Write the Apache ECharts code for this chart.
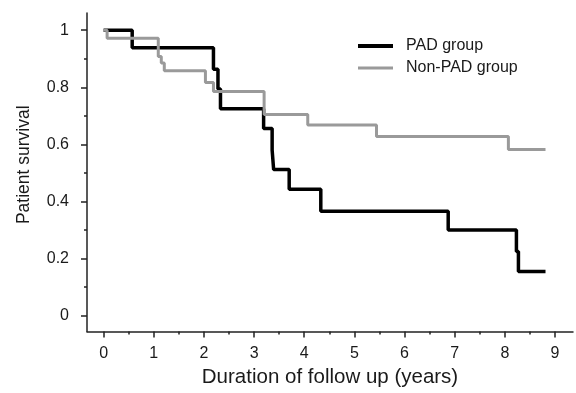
<!DOCTYPE html>
<html>
<head>
<meta charset="utf-8">
<script src="https://cdn.jsdelivr.net/npm/echarts@6/dist/echarts.min.js"></script>
<style>html,body{margin:0;padding:0;background:#fff}#c{width:576px;height:393px}</style>
</head>
<body>
<div id="c"></div>
<script>
// Kaplan-Meier step data [years, survival]
const padSeries = [[0,1],[0.57,0.9385],[2.19,0.863],[2.28,0.794],[2.33,0.725],[3.19,0.656],[3.36,0.58],[3.39,0.512],[3.70,0.443],[4.33,0.366],[6.87,0.30],[8.23,0.225],[8.27,0.155],[8.81,0.155]];
const nonPadSeries = [[0,1],[0.07,0.972],[1.09,0.908],[1.15,0.885],[1.21,0.858],[2.03,0.817],[2.19,0.785],[3.2,0.705],[4.07,0.668],[5.44,0.628],[8.07,0.582],[8.81,0.582]];
const seriesNames = ['PAD group','Non-PAD group'];
const xMajorTicks = [0,1,2,3,4,5,6,7,8,9];
const xMinorTicks = [0.5,1.5,2.5,3.5,4.5,5.5,6.5,7.5,8.5];
const yMajorTicks = [0,0.2,0.4,0.6,0.8,1];
const yMinorTicks = [0.1,0.3,0.5,0.7,0.9];
const xTitle = 'Duration of follow up (years)';
const yTitle = 'Patient survival';

const FONT = '"Liberation Sans", Arial, sans-serif';
const TXT = '#1a1a1a';
const xMin = -0.331, xMax = 9.358, yMin = -0.055, yMax = 1.06;

const chart = echarts.init(document.getElementById('c'), null, {renderer:'canvas'});
chart.setOption({
  animation: false,
  backgroundColor: '#fff',
  grid: {left: 87, right: 3, top: 13, bottom: 57, containLabel: false},
  legend: {
    orient: 'vertical', left: 353, top: 33, itemWidth: 35, itemHeight: 14, itemGap: 6,
    symbolKeepAspect: true,
    data: [
      {name: seriesNames[0], icon: 'path://M0,0h35v4h-35z'},
      {name: seriesNames[1], icon: 'path://M0,0h35v3h-35z'}
    ],
    textStyle: {fontFamily: FONT, fontSize: 16, color: TXT, padding: [0,0,0,8]}
  },
  xAxis: [
    {type: 'value', min: xMin, max: xMax, position: 'bottom',
     name: xTitle, nameLocation: 'middle', nameGap: 35.5,
     nameTextStyle: {fontFamily: FONT, fontSize: 20.5, color: TXT},
     axisLine: {show: true, onZero: false, lineStyle: {color: '#222', width: 1.5}},
     axisTick: {show: true, length: 6, customValues: xMajorTicks, lineStyle: {color: '#222', width: 1.5}},
     axisLabel: {customValues: xMajorTicks, margin: 14, fontFamily: FONT, fontSize: 16, color: TXT},
     splitLine: {show: false}},
    {type: 'value', min: xMin, max: xMax, position: 'bottom',
     axisLine: {show: false, onZero: false},
     axisTick: {show: true, length: 3, customValues: xMinorTicks, lineStyle: {color: '#222', width: 1.5}},
     axisLabel: {show: false}, splitLine: {show: false}}
  ],
  yAxis: [
    {type: 'value', min: yMin, max: yMax, position: 'left',
     name: yTitle, nameLocation: 'middle', nameGap: 54,
     nameTextStyle: {fontFamily: FONT, fontSize: 17.5, color: TXT, padding: [0,0,0,15]},
     axisLine: {show: true, onZero: false, lineStyle: {color: '#222', width: 1.5}},
     axisTick: {show: true, length: 6, customValues: yMajorTicks, lineStyle: {color: '#222', width: 1.5}},
     axisLabel: {customValues: yMajorTicks, margin: 18, fontFamily: FONT, fontSize: 16, color: TXT},
     splitLine: {show: false}},
    {type: 'value', min: yMin, max: yMax, position: 'left',
     axisLine: {show: false, onZero: false},
     axisTick: {show: true, length: 3, customValues: yMinorTicks, lineStyle: {color: '#222', width: 1.5}},
     axisLabel: {show: false}, splitLine: {show: false}}
  ],
  series: [
    {name: seriesNames[0], type: 'line', step: 'end', data: padSeries, symbol: 'none',
     xAxisIndex: 0, yAxisIndex: 0,
     lineStyle: {color: '#000', width: 3.5}, itemStyle: {color: '#000'}},
    {name: seriesNames[1], type: 'line', step: 'end', data: nonPadSeries, symbol: 'none',
     xAxisIndex: 0, yAxisIndex: 0,
     lineStyle: {color: '#9a9a9a', width: 3}, itemStyle: {color: '#9a9a9a'}}
  ]
});
</script>
</body>
</html>
